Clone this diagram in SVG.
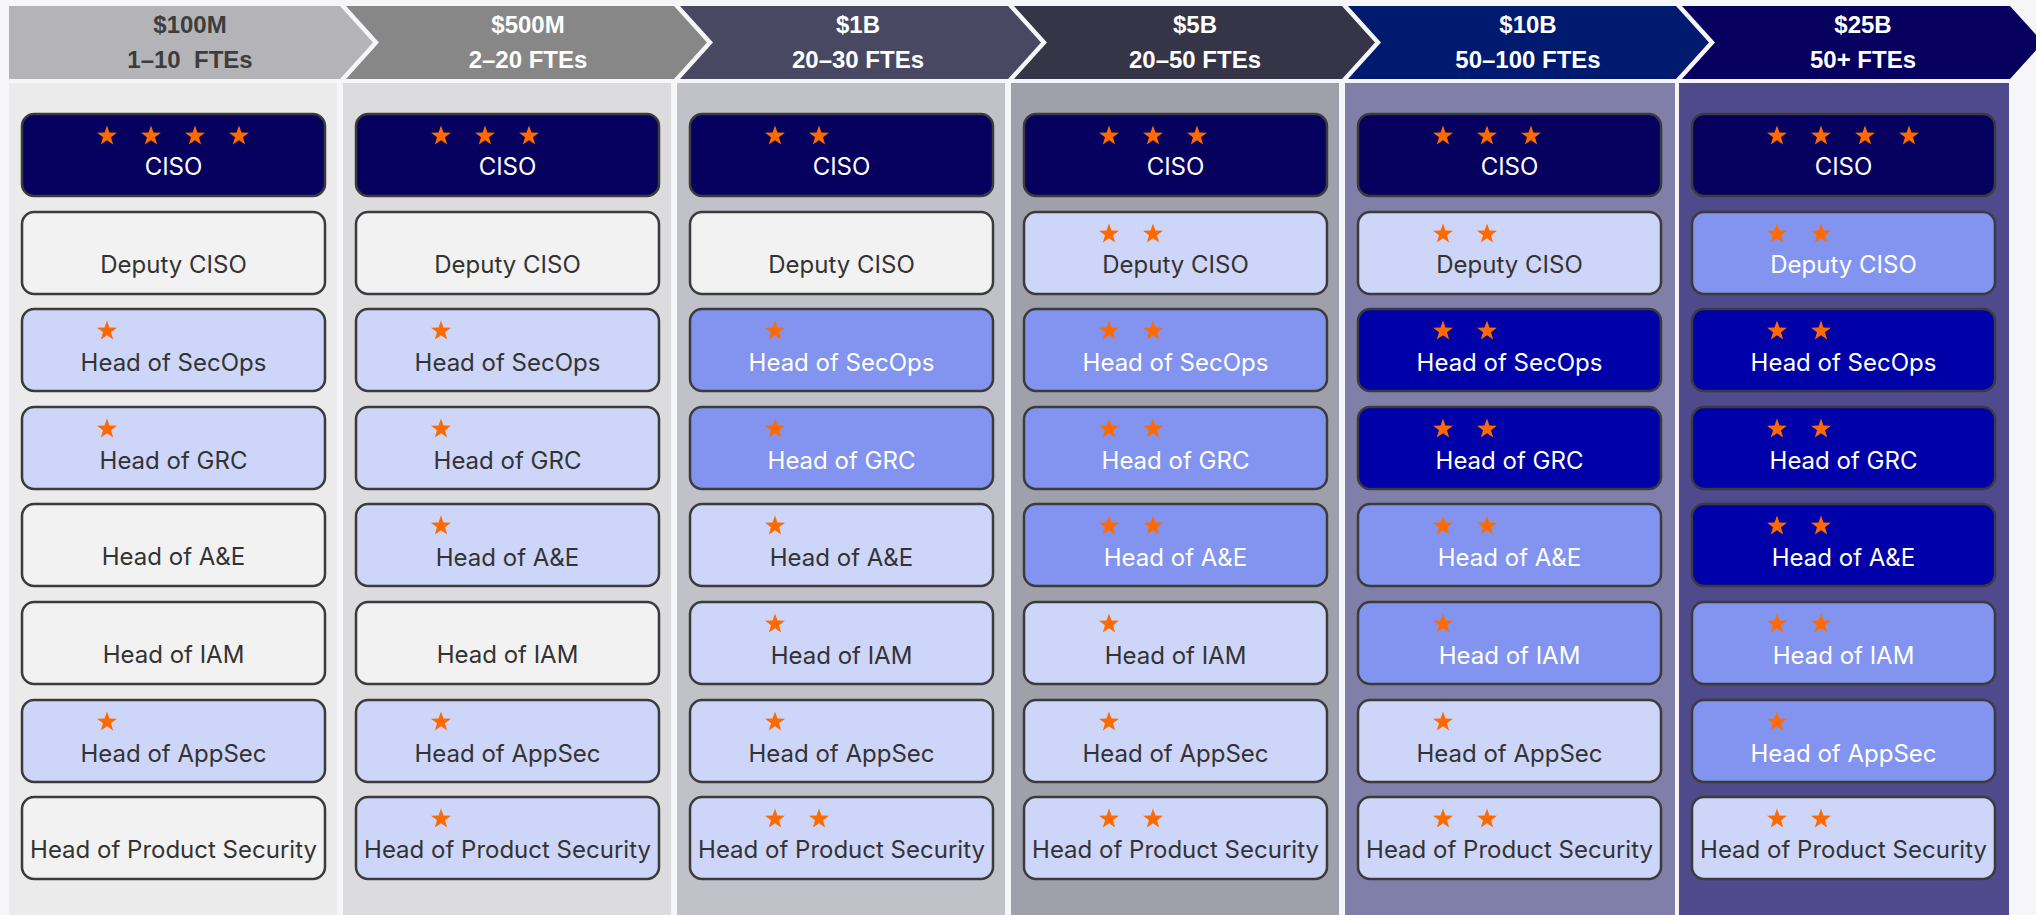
<svg xmlns="http://www.w3.org/2000/svg" width="2036" height="915" viewBox="0 0 2036 915">
<style>
.hd{font-family:"Liberation Sans",Arial,sans-serif;font-weight:bold;font-size:24px;text-anchor:middle}
.hw{fill:#ffffff}.hk{fill:#3d3d3d}
.bx{stroke:#3b3b3b;stroke-width:2.5}
.navy{fill:#06005e}.wht{fill:#f2f2f2}.lt{fill:#cdd5f8}.med{fill:#8294ef}.dk{fill:#0000a8}
.lb{font-family:Inter,"Noto Sans",sans-serif;font-size:24px;text-anchor:middle}
.tw{fill:#ffffff}.tk{fill:#333333}
.st{fill:#ff6a00}
</style>
<defs>
<path id="s" class="st" d="M0,-10.5 L2.47,-3.4 L9.99,-3.24 L3.99,1.3 L6.17,8.49 L0,4.2 L-6.17,8.49 L-3.99,1.3 L-9.99,-3.24 L-2.47,-3.4 Z"/>
</defs>
<rect x="0" y="0" width="2036" height="915" fill="#f6f6f8"/>
<g id="columns">
<rect x="9" y="83" width="328" height="832" fill="#ebebeb"/>
<rect x="343" y="83" width="328" height="832" fill="#dcdcde"/>
<rect x="677" y="83" width="328" height="832" fill="#c1c1ca"/>
<rect x="1011" y="83" width="328" height="832" fill="#a0a0ab"/>
<rect x="1345" y="83" width="330" height="832" fill="#7f7fa9"/>
<rect x="1679" y="83" width="330" height="832" fill="#4f4a8b"/>
</g>
<g id="headers">
<g id="h1"><polygon points="9,6 340,6 373,42.5 340,79 9,79" fill="#b4b4b8"/><text class="hd hk" x="190" y="33">$100M</text><text class="hd hk" x="190" y="68" style="white-space:pre">1–10  FTEs</text></g>
<g id="h2"><polygon points="346,6 674,6 707,42.5 674,79 346,79 379,42.5" fill="#878787"/><text class="hd hw" x="528" y="33">$500M</text><text class="hd hw" x="528" y="68">2–20 FTEs</text></g>
<g id="h3"><polygon points="680,6 1008,6 1041,42.5 1008,79 680,79 713,42.5" fill="#484862"/><text class="hd hw" x="858" y="33">$1B</text><text class="hd hw" x="858" y="68">20–30 FTEs</text></g>
<g id="h4"><polygon points="1014,6 1342,6 1375,42.5 1342,79 1014,79 1047,42.5" fill="#363548"/><text class="hd hw" x="1195" y="33">$5B</text><text class="hd hw" x="1195" y="68">20–50 FTEs</text></g>
<g id="h5"><polygon points="1348,6 1676,6 1709,42.5 1676,79 1348,79 1381,42.5" fill="#001a70"/><text class="hd hw" x="1528" y="33">$10B</text><text class="hd hw" x="1528" y="68">50–100 FTEs</text></g>
<g id="h6"><polygon points="1682,6 2010,6 2043,42.5 2010,79 1682,79 1715,42.5" fill="#07005f"/><text class="hd hw" x="1863" y="33">$25B</text><text class="hd hw" x="1863" y="68">50+ FTEs</text></g>
</g>
<g id="connectors"></g>

<!-- Column 1 -->
<g id="c1-ciso"><rect class="bx navy" x="22" y="114" width="303" height="82" rx="12"/><use href="#s" x="107" y="136"/><use href="#s" x="151" y="136"/><use href="#s" x="195" y="136"/><use href="#s" x="239" y="136"/><text class="lb tw" x="173.5" y="175">CISO</text></g>
<g id="c1-deputy"><rect class="bx wht" x="22" y="212" width="303" height="82" rx="12"/><text class="lb tk" x="173.5" y="273">Deputy CISO</text></g>
<g id="c1-secops"><rect class="bx lt" x="22" y="309" width="303" height="82" rx="12"/><use href="#s" x="107" y="331"/><text class="lb tk" x="173.5" y="371">Head of SecOps</text></g>
<g id="c1-grc"><rect class="bx lt" x="22" y="407" width="303" height="82" rx="12"/><use href="#s" x="107" y="429"/><text class="lb tk" x="173.5" y="469">Head of GRC</text></g>
<g id="c1-ae"><rect class="bx wht" x="22" y="504" width="303" height="82" rx="12"/><text class="lb tk" x="173.5" y="565">Head of A&amp;E</text></g>
<g id="c1-iam"><rect class="bx wht" x="22" y="602" width="303" height="82" rx="12"/><text class="lb tk" x="173.5" y="663">Head of IAM</text></g>
<g id="c1-appsec"><rect class="bx lt" x="22" y="700" width="303" height="82" rx="12"/><use href="#s" x="107" y="722"/><text class="lb tk" x="173.5" y="762">Head of AppSec</text></g>
<g id="c1-prodsec"><rect class="bx wht" x="22" y="797" width="303" height="82" rx="12"/><text class="lb tk" x="173.5" y="858">Head of Product Security</text></g>

<!-- Column 2 -->
<g id="c2-ciso"><rect class="bx navy" x="356" y="114" width="303" height="82" rx="12"/><use href="#s" x="441" y="136"/><use href="#s" x="485" y="136"/><use href="#s" x="529" y="136"/><text class="lb tw" x="507.5" y="175">CISO</text></g>
<g id="c2-deputy"><rect class="bx wht" x="356" y="212" width="303" height="82" rx="12"/><text class="lb tk" x="507.5" y="273">Deputy CISO</text></g>
<g id="c2-secops"><rect class="bx lt" x="356" y="309" width="303" height="82" rx="12"/><use href="#s" x="441" y="331"/><text class="lb tk" x="507.5" y="371">Head of SecOps</text></g>
<g id="c2-grc"><rect class="bx lt" x="356" y="407" width="303" height="82" rx="12"/><use href="#s" x="441" y="429"/><text class="lb tk" x="507.5" y="469">Head of GRC</text></g>
<g id="c2-ae"><rect class="bx lt" x="356" y="504" width="303" height="82" rx="12"/><use href="#s" x="441" y="526"/><text class="lb tk" x="507.5" y="566">Head of A&amp;E</text></g>
<g id="c2-iam"><rect class="bx wht" x="356" y="602" width="303" height="82" rx="12"/><text class="lb tk" x="507.5" y="663">Head of IAM</text></g>
<g id="c2-appsec"><rect class="bx lt" x="356" y="700" width="303" height="82" rx="12"/><use href="#s" x="441" y="722"/><text class="lb tk" x="507.5" y="762">Head of AppSec</text></g>
<g id="c2-prodsec"><rect class="bx lt" x="356" y="797" width="303" height="82" rx="12"/><use href="#s" x="441" y="819"/><text class="lb tk" x="507.5" y="858">Head of Product Security</text></g>

<!-- Column 3 -->
<g id="c3-ciso"><rect class="bx navy" x="690" y="114" width="303" height="82" rx="12"/><use href="#s" x="775" y="136"/><use href="#s" x="819" y="136"/><text class="lb tw" x="841.5" y="175">CISO</text></g>
<g id="c3-deputy"><rect class="bx wht" x="690" y="212" width="303" height="82" rx="12"/><text class="lb tk" x="841.5" y="273">Deputy CISO</text></g>
<g id="c3-secops"><rect class="bx med" x="690" y="309" width="303" height="82" rx="12"/><use href="#s" x="775" y="331"/><text class="lb tw" x="841.5" y="371">Head of SecOps</text></g>
<g id="c3-grc"><rect class="bx med" x="690" y="407" width="303" height="82" rx="12"/><use href="#s" x="775" y="429"/><text class="lb tw" x="841.5" y="469">Head of GRC</text></g>
<g id="c3-ae"><rect class="bx lt" x="690" y="504" width="303" height="82" rx="12"/><use href="#s" x="775" y="526"/><text class="lb tk" x="841.5" y="566">Head of A&amp;E</text></g>
<g id="c3-iam"><rect class="bx lt" x="690" y="602" width="303" height="82" rx="12"/><use href="#s" x="775" y="624"/><text class="lb tk" x="841.5" y="664">Head of IAM</text></g>
<g id="c3-appsec"><rect class="bx lt" x="690" y="700" width="303" height="82" rx="12"/><use href="#s" x="775" y="722"/><text class="lb tk" x="841.5" y="762">Head of AppSec</text></g>
<g id="c3-prodsec"><rect class="bx lt" x="690" y="797" width="303" height="82" rx="12"/><use href="#s" x="775" y="819"/><use href="#s" x="819" y="819"/><text class="lb tk" x="841.5" y="858">Head of Product Security</text></g>

<!-- Column 4 -->
<g id="c4-ciso"><rect class="bx navy" x="1024" y="114" width="303" height="82" rx="12"/><use href="#s" x="1109" y="136"/><use href="#s" x="1153" y="136"/><use href="#s" x="1197" y="136"/><text class="lb tw" x="1175.5" y="175">CISO</text></g>
<g id="c4-deputy"><rect class="bx lt" x="1024" y="212" width="303" height="82" rx="12"/><use href="#s" x="1109" y="234"/><use href="#s" x="1153" y="234"/><text class="lb tk" x="1175.5" y="273">Deputy CISO</text></g>
<g id="c4-secops"><rect class="bx med" x="1024" y="309" width="303" height="82" rx="12"/><use href="#s" x="1109" y="331"/><use href="#s" x="1153" y="331"/><text class="lb tw" x="1175.5" y="371">Head of SecOps</text></g>
<g id="c4-grc"><rect class="bx med" x="1024" y="407" width="303" height="82" rx="12"/><use href="#s" x="1109" y="429"/><use href="#s" x="1153" y="429"/><text class="lb tw" x="1175.5" y="469">Head of GRC</text></g>
<g id="c4-ae"><rect class="bx med" x="1024" y="504" width="303" height="82" rx="12"/><use href="#s" x="1109" y="526"/><use href="#s" x="1153" y="526"/><text class="lb tw" x="1175.5" y="566">Head of A&amp;E</text></g>
<g id="c4-iam"><rect class="bx lt" x="1024" y="602" width="303" height="82" rx="12"/><use href="#s" x="1109" y="624"/><text class="lb tk" x="1175.5" y="664">Head of IAM</text></g>
<g id="c4-appsec"><rect class="bx lt" x="1024" y="700" width="303" height="82" rx="12"/><use href="#s" x="1109" y="722"/><text class="lb tk" x="1175.5" y="762">Head of AppSec</text></g>
<g id="c4-prodsec"><rect class="bx lt" x="1024" y="797" width="303" height="82" rx="12"/><use href="#s" x="1109" y="819"/><use href="#s" x="1153" y="819"/><text class="lb tk" x="1175.5" y="858">Head of Product Security</text></g>

<!-- Column 5 -->
<g id="c5-ciso"><rect class="bx navy" x="1358" y="114" width="303" height="82" rx="12"/><use href="#s" x="1443" y="136"/><use href="#s" x="1487" y="136"/><use href="#s" x="1531" y="136"/><text class="lb tw" x="1509.5" y="175">CISO</text></g>
<g id="c5-deputy"><rect class="bx lt" x="1358" y="212" width="303" height="82" rx="12"/><use href="#s" x="1443" y="234"/><use href="#s" x="1487" y="234"/><text class="lb tk" x="1509.5" y="273">Deputy CISO</text></g>
<g id="c5-secops"><rect class="bx dk" x="1358" y="309" width="303" height="82" rx="12"/><use href="#s" x="1443" y="331"/><use href="#s" x="1487" y="331"/><text class="lb tw" x="1509.5" y="371">Head of SecOps</text></g>
<g id="c5-grc"><rect class="bx dk" x="1358" y="407" width="303" height="82" rx="12"/><use href="#s" x="1443" y="429"/><use href="#s" x="1487" y="429"/><text class="lb tw" x="1509.5" y="469">Head of GRC</text></g>
<g id="c5-ae"><rect class="bx med" x="1358" y="504" width="303" height="82" rx="12"/><use href="#s" x="1443" y="526"/><use href="#s" x="1487" y="526"/><text class="lb tw" x="1509.5" y="566">Head of A&amp;E</text></g>
<g id="c5-iam"><rect class="bx med" x="1358" y="602" width="303" height="82" rx="12"/><use href="#s" x="1443" y="624"/><text class="lb tw" x="1509.5" y="664">Head of IAM</text></g>
<g id="c5-appsec"><rect class="bx lt" x="1358" y="700" width="303" height="82" rx="12"/><use href="#s" x="1443" y="722"/><text class="lb tk" x="1509.5" y="762">Head of AppSec</text></g>
<g id="c5-prodsec"><rect class="bx lt" x="1358" y="797" width="303" height="82" rx="12"/><use href="#s" x="1443" y="819"/><use href="#s" x="1487" y="819"/><text class="lb tk" x="1509.5" y="858">Head of Product Security</text></g>

<!-- Column 6 -->
<g id="c6-ciso"><rect class="bx navy" x="1692" y="114" width="303" height="82" rx="12"/><use href="#s" x="1777" y="136"/><use href="#s" x="1821" y="136"/><use href="#s" x="1865" y="136"/><use href="#s" x="1909" y="136"/><text class="lb tw" x="1843.5" y="175">CISO</text></g>
<g id="c6-deputy"><rect class="bx med" x="1692" y="212" width="303" height="82" rx="12"/><use href="#s" x="1777" y="234"/><use href="#s" x="1821" y="234"/><text class="lb tw" x="1843.5" y="273">Deputy CISO</text></g>
<g id="c6-secops"><rect class="bx dk" x="1692" y="309" width="303" height="82" rx="12"/><use href="#s" x="1777" y="331"/><use href="#s" x="1821" y="331"/><text class="lb tw" x="1843.5" y="371">Head of SecOps</text></g>
<g id="c6-grc"><rect class="bx dk" x="1692" y="407" width="303" height="82" rx="12"/><use href="#s" x="1777" y="429"/><use href="#s" x="1821" y="429"/><text class="lb tw" x="1843.5" y="469">Head of GRC</text></g>
<g id="c6-ae"><rect class="bx dk" x="1692" y="504" width="303" height="82" rx="12"/><use href="#s" x="1777" y="526"/><use href="#s" x="1821" y="526"/><text class="lb tw" x="1843.5" y="566">Head of A&amp;E</text></g>
<g id="c6-iam"><rect class="bx med" x="1692" y="602" width="303" height="82" rx="12"/><use href="#s" x="1777" y="624"/><use href="#s" x="1821" y="624"/><text class="lb tw" x="1843.5" y="664">Head of IAM</text></g>
<g id="c6-appsec"><rect class="bx med" x="1692" y="700" width="303" height="82" rx="12"/><use href="#s" x="1777" y="722"/><text class="lb tw" x="1843.5" y="762">Head of AppSec</text></g>
<g id="c6-prodsec"><rect class="bx lt" x="1692" y="797" width="303" height="82" rx="12"/><use href="#s" x="1777" y="819"/><use href="#s" x="1821" y="819"/><text class="lb tk" x="1843.5" y="858">Head of Product Security</text></g>
</svg>
